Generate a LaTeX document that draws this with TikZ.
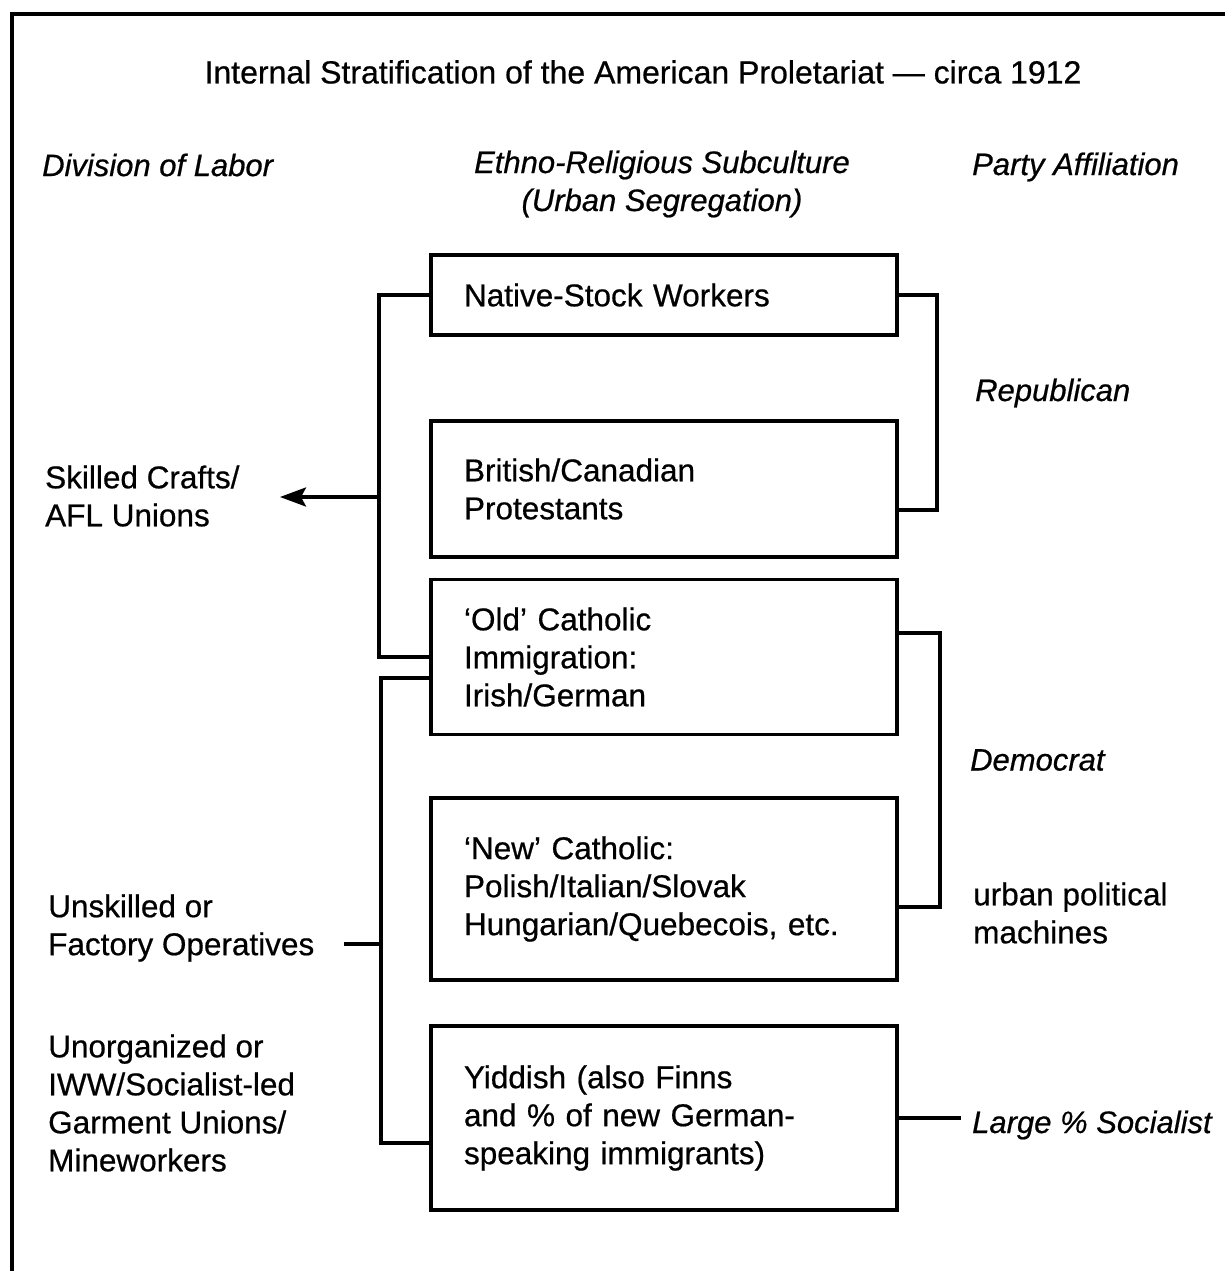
\documentclass[tikz,border=0pt]{standalone}
\usepackage{fontspec}
\setmainfont{Liberation Sans}[FakeBold=0.6]
\usetikzlibrary{arrows.meta,calc}
\begin{document}
\begin{tikzpicture}[x=1pt,y=-1pt,
  every node/.style={font=\fontsize{31.5}{38}\selectfont},
  txt/.style={inner sep=0pt, align=left, anchor=west},
  hdr/.style={txt, font=\fontsize{31}{38}\selectfont\itshape},
  box/.style={draw, line width=3.4pt, text width=400pt, inner xsep=33pt, inner ysep=0pt, align=left},
  conn/.style={line width=3.4pt},
  frame/.style={line width=3.2pt}
]
\useasboundingbox (0,0) rectangle (1225,1271);
\draw[frame] (12,1271) -- (12,14) -- (1225,14);

\node[font=\fontsize{32}{38}\selectfont] (title) at (643,72) {Internal Stratification of the American Proletariat --- circa 1912};
\node[hdr] (hdiv) at (42,165) {Division of Labor};
\node[font=\fontsize{31}{38}\selectfont\itshape, align=center, inner sep=0pt] (heth) at (662,184) {Ethno-Religious Subculture\\(Urban Segregation)};
\node[hdr] (hparty) at (972,167) {Party Affiliation};

\node[box, minimum height=80pt] (b1) at (664,295) {Native-Stock Workers};
\node[box, minimum height=136pt] (b2) at (664,489) {British/Canadian\\Protestants};
\node[box, minimum height=155pt] (b3) at (664,657) {‘Old’ Catholic\\Immigration:\\Irish/German};
\node[box, minimum height=182pt] (b4) at (664,889) {‘New’ Catholic:\\Polish/Italian/Slovak\\Hungarian/Quebecois, etc.};
\node[box, minimum height=184pt] (b5) at (664,1118) {Yiddish (also Finns\\and \% of new German-\\speaking immigrants)};

\node[txt] (skilled) at (45,496) {Skilled Crafts/\\AFL Unions};
\node[txt] (unsk) at (48,928) {Unskilled or\\Factory Operatives};
\node[txt] (unorg) at (48,1103) {Unorganized or\\IWW/Socialist-led\\Garment Unions/\\Mineworkers};

\node[hdr] (rep) at (975,393) {Republican};
\node[hdr] (dem) at (970,760) {Democrat};
\node[txt] (urban) at (973,913) {urban political\\machines};
\node[hdr, inner xsep=11pt] (soc) at (961,1125) {Large \% Socialist};

% left brackets
\coordinate (L1) at (379,0);
\coordinate (L2) at (381,0);
\draw[conn] (b1.west) -| (L1 |- b3.west) -- (b3.west);
\draw[conn, -{Stealth[length=26pt,width=19pt,inset=5pt]}] (L1 |- 497,497) -- (280,497) coordinate (arrEnd);
\draw[conn] ($(b3.west)+(0,21)$) -| (L2 |- 0,1143) -- ($(b5.west)+(0,25)$);
\coordinate (tickEnd) at (344,944);
\draw[conn] (L2 |- tickEnd) -- (tickEnd);

% right brackets
\coordinate (R1) at (937,0);
\coordinate (R2) at (940,0);
\draw[conn] (b1.east) -| (R1 |- 0,510) -- ($(b2.east)+(0,21)$);
\draw[conn] ($(b3.east)+(0,-24)$) -| (R2 |- 0,907) -- ($(b4.east)+(0,18)$);
\draw[conn] (b5.east) -- (b5.east -| soc.west);
\end{tikzpicture}
\end{document}
